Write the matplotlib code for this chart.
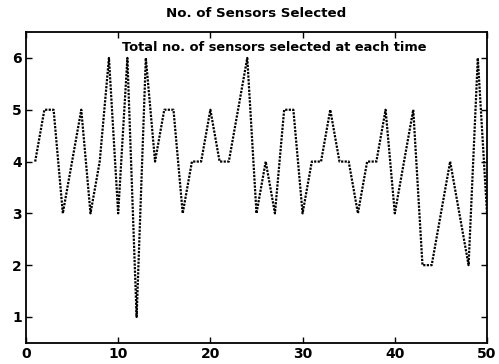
import matplotlib
matplotlib.use("Agg")
import matplotlib.pyplot as plt

# number of sensors selected at each time step
times = list(range(1, 51))
n_selected = [4, 5, 5, 3, 4, 5, 3, 4, 6, 3,
              6, 1, 6, 4, 5, 5, 3, 4, 4, 5,
              4, 4, 5, 6, 3, 4, 3, 5, 5, 3,
              4, 4, 5, 4, 4, 3, 4, 4, 5, 3,
              4, 5, 2, 2, 3, 4, 3, 2, 6, 3]
xticks = [0, 10, 20, 30, 40, 50]
yticks = [1, 2, 3, 4, 5, 6]

plt.rcParams["font.family"] = ["DejaVu Sans"]
plt.rcParams["font.weight"] = "bold"

fig = plt.figure(figsize=(4.99, 3.64), dpi=100)
ax = fig.add_axes([0.052, 0.058, 0.924, 0.854])
ax.plot(times, n_selected, color="black", ls=(0, (1, 0.6)), lw=1.6)

ax.set_xlim(0, 50)
ax.set_ylim(0.5, 6.5)
ax.set_xticks(xticks)
ax.set_yticks(yticks)
ax.tick_params(direction="in", top=True, right=True, labelsize=10, length=4, width=1, pad=3)
for s in ax.spines.values():
    s.set_linewidth(1.3)

ax.set_title("No. of Sensors Selected", fontsize=9.6, fontweight="bold", pad=11)
ax.text(0.208, 0.97, "Total no. of sensors selected at each time", transform=ax.transAxes,
        fontsize=9.4, fontweight="bold", va="top", ha="left")

fig.savefig("out.png", dpi=100, facecolor="white")
